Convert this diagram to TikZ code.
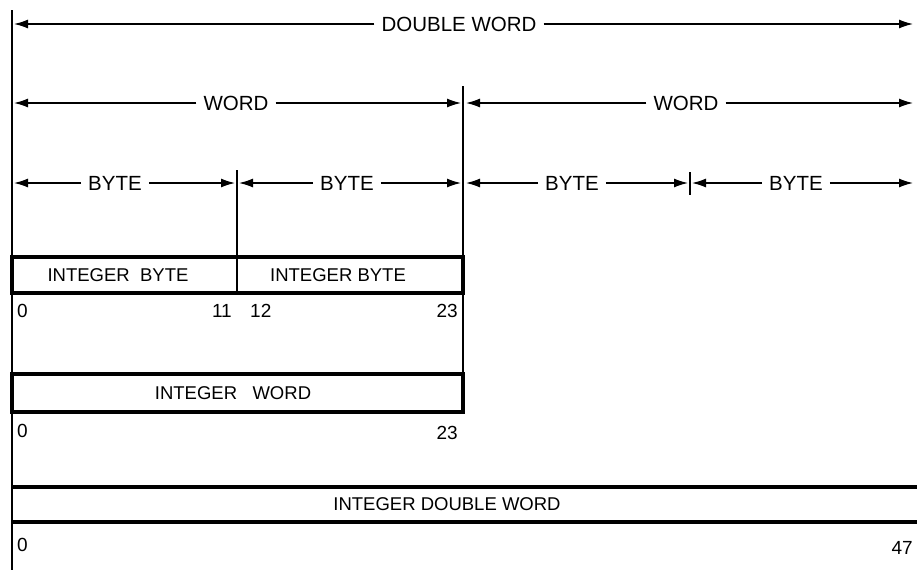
\documentclass[tikz,border=0pt]{standalone}
\usepackage{fontspec}
\setmainfont{Liberation Sans}
\usetikzlibrary{arrows.meta}
\begin{document}
\begin{tikzpicture}[x=1pt,y=-1pt,
  dim/.style={line width=1.4pt,-{Latex[length=14pt,width=9pt]}},
  lab/.style={font=\fontsize{20.5}{21}\selectfont, inner xsep=7pt, inner ysep=0pt},
  boxlab/.style={font=\fontsize{18.5}{19}\selectfont, inner sep=0pt},
  num/.style={font=\fontsize{19}{19}\selectfont, inner sep=0pt},
  rule/.style={line width=2pt},
  field/.style={line width=3.4pt}]
\useasboundingbox (0,0) rectangle (917,573);

% main verticals
\draw[rule] (12,10) coordinate (vtop) -- (12,570) coordinate (vbot);
\draw[rule] (463,86) coordinate (w1top) -- (463,413) coordinate (w1bot);
\draw[rule] (237,170) coordinate (b1top) -- (237,293) coordinate (b1bot);
\draw[rule] (690,172) coordinate (b3top) -- (690,195) coordinate (b3bot);

% DOUBLE WORD
\coordinate (dwL) at (14,24);
\coordinate (dwR) at (913,24);
\node[lab] (dw) at (459,24) {DOUBLE WORD};
\draw[dim] (dw.west) -- (dwL);
\draw[dim] (dw.east) -- (dwR);

% WORDs
\coordinate (w1L) at (14,103);
\coordinate (w1R) at (461,103);
\node[lab] (w1) at (236,103) {WORD};
\draw[dim] (w1.west) -- (w1L);
\draw[dim] (w1.east) -- (w1R);
\coordinate (w2L) at (466,103);
\coordinate (w2R) at (913,103);
\node[lab] (w2) at (686,103) {WORD};
\draw[dim] (w2.west) -- (w2L);
\draw[dim] (w2.east) -- (w2R);

% BYTEs
\coordinate (by1L) at (14,183);
\coordinate (by1R) at (235,183);
\node[lab] (by1) at (115,183) {BYTE};
\draw[dim] (by1.west) -- (by1L);
\draw[dim] (by1.east) -- (by1R);
\coordinate (by2L) at (239,183);
\coordinate (by2R) at (461,183);
\node[lab] (by2) at (347,183) {BYTE};
\draw[dim] (by2.west) -- (by2L);
\draw[dim] (by2.east) -- (by2R);
\coordinate (by3L) at (466,183);
\coordinate (by3R) at (688,183);
\node[lab] (by3) at (572,183) {BYTE};
\draw[dim] (by3.west) -- (by3L);
\draw[dim] (by3.east) -- (by3R);
\coordinate (by4L) at (692,183);
\coordinate (by4R) at (913,183);
\node[lab] (by4) at (796,183) {BYTE};
\draw[dim] (by4.west) -- (by4L);
\draw[dim] (by4.east) -- (by4R);

% INTEGER BYTE boxes
\draw[field] (12,257) rectangle (463,293);
\node[boxlab] (ib1) at (118,275) {INTEGER\ \ BYTE};
\node[boxlab] (ib2) at (338,275) {INTEGER BYTE};
\node[num,anchor=west] (n0a) at (17,311) {0};
\node[num,anchor=east] (n11) at (232,311) {11};
\node[num,anchor=west] (n12) at (250,311) {12};
\node[num,anchor=east] (n23a) at (458,311) {23};

% INTEGER WORD box
\draw[field] (12,374) rectangle (463,412);
\node[boxlab] (iw) at (233,393) {INTEGER\ \ \ WORD};
\node[num,anchor=west] (n0b) at (17,431) {0};
\node[num,anchor=east] (n23b) at (458,433) {23};

% INTEGER DOUBLE WORD box
\draw[field] (12,487) -- (917,487);
\draw[field] (12,522) -- (917,522);
\node[boxlab] (idw) at (447,504) {INTEGER DOUBLE WORD};
\node[num,anchor=west] (n0c) at (17,545) {0};
\node[num,anchor=east] (n47) at (913,548) {47};
\end{tikzpicture}
\end{document}
